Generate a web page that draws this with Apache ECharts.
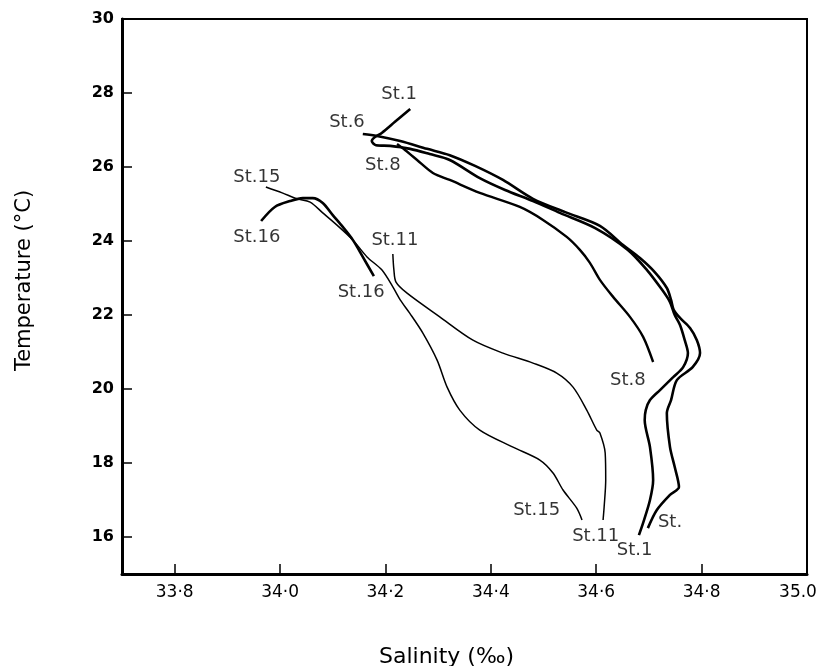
<!DOCTYPE html>
<html>
<head>
<meta charset="utf-8">
<script src="https://cdn.jsdelivr.net/npm/echarts@6/dist/echarts.min.js"></script>
<style>
  html, body { margin: 0; padding: 0; background: #fff; }
  #chart { width: 819px; height: 666px; }
</style>
</head>
<body>
<div id="chart"></div>
<script>
// T-S curves, [salinity, temperature]
const st1 = [
  [34.247, 27.57], [34.218, 27.22], [34.193, 26.92], [34.180, 26.81], [34.174, 26.70],
  [34.182, 26.59], [34.209, 26.57], [34.247, 26.49], [34.284, 26.35], [34.322, 26.19],
  [34.379, 25.70], [34.427, 25.38], [34.480, 25.08], [34.531, 24.76], [34.598, 24.35],
  [34.660, 23.76], [34.696, 23.22], [34.725, 22.68], [34.740, 22.35], [34.749, 22.00],
  [34.759, 21.73], [34.768, 21.32], [34.774, 20.97], [34.765, 20.59], [34.746, 20.32],
  [34.721, 19.97], [34.702, 19.70], [34.694, 19.43], [34.692, 19.16], [34.702, 18.43],
  [34.708, 17.54], [34.702, 17.00], [34.689, 16.38], [34.681, 16.05]
];
const st6 = [
  [34.157, 26.89], [34.184, 26.84], [34.228, 26.70], [34.279, 26.49], [34.322, 26.32],
  [34.370, 26.03], [34.423, 25.65], [34.480, 25.14], [34.541, 24.78], [34.607, 24.41],
  [34.651, 23.89], [34.683, 23.54], [34.711, 23.16], [34.734, 22.73], [34.742, 22.41],
  [34.747, 22.14], [34.759, 21.92], [34.778, 21.65], [34.791, 21.32], [34.797, 20.97],
  [34.783, 20.59], [34.753, 20.24], [34.742, 19.70], [34.734, 19.35], [34.740, 18.43],
  [34.749, 17.89], [34.757, 17.35], [34.740, 17.14], [34.715, 16.73], [34.698, 16.24]
];
const st8 = [
  [34.222, 26.62], [34.237, 26.46], [34.260, 26.19], [34.290, 25.84], [34.322, 25.65],
  [34.379, 25.30], [34.455, 24.92], [34.499, 24.57], [34.544, 24.11], [34.569, 23.76],
  [34.588, 23.41], [34.607, 22.95], [34.632, 22.49], [34.664, 21.95], [34.689, 21.41],
  [34.708, 20.73]
];
const st11 = [
  [34.214, 23.65], [34.216, 23.22], [34.220, 22.89], [34.241, 22.59], [34.303, 21.95],
  [34.366, 21.32], [34.423, 20.97], [34.480, 20.70], [34.525, 20.43], [34.556, 20.05],
  [34.582, 19.43], [34.601, 18.89], [34.607, 18.81], [34.617, 18.27], [34.618, 17.54],
  [34.615, 16.81], [34.613, 16.46]
];
const st15 = [
  [33.973, 25.46], [34.004, 25.30], [34.032, 25.14], [34.057, 25.05], [34.081, 24.76],
  [34.108, 24.43], [34.138, 24.03], [34.165, 23.57], [34.193, 23.22], [34.214, 22.76],
  [34.228, 22.41], [34.246, 22.05], [34.271, 21.51], [34.298, 20.78], [34.317, 20.05],
  [34.341, 19.43], [34.379, 18.89], [34.442, 18.43], [34.493, 18.08], [34.518, 17.73],
  [34.537, 17.27], [34.563, 16.78], [34.573, 16.46]
];
const st16 = [
  [33.964, 24.54], [33.990, 24.92], [34.019, 25.08], [34.043, 25.16], [34.062, 25.16],
  [34.081, 25.03], [34.100, 24.70], [34.119, 24.38], [34.138, 24.03], [34.157, 23.57],
  [34.178, 23.05]
];

// station labels written on the plot
const labelNames = ["St.1", "St.6", "St.8", "St.15", "St.16", "St.11", "St.16", "St.8", "St.15", "St.11", "St.1", "St."];
const labelAt = [
  [34.226, 27.97], [34.127, 27.22], [34.195, 26.05], [33.956, 25.73], [33.956, 24.11],
  [34.218, 24.03], [34.154, 22.62], [34.660, 20.24], [34.487, 16.73], [34.599, 16.03],
  [34.673, 15.65], [34.740, 16.41]
];

const xTicks = [33.8, 34.0, 34.2, 34.4, 34.6, 34.8, 35.0];
const xTickText = ["33·8", "34·0", "34·2", "34·4", "34·6", "34·8", "35.0"];
const yTicks = [16, 18, 20, 22, 24, 26, 28, 30];

const ink = "#000";
const chart = echarts.init(document.getElementById("chart"));

function curve(name, data, width) {
  return {
    name: name,
    type: "line",
    data: data,
    showSymbol: false,
    smooth: 0.3,
    lineStyle: { color: ink, width: width },
    silent: true
  };
}

chart.setOption({
  animation: false,
  backgroundColor: "#fff",
  grid: {
    left: 122, right: 12, top: 19, bottom: 92,
    outerBoundsMode: "none",
    containLabel: false,
    show: true, borderColor: ink, borderWidth: 2
  },
  xAxis: {
    type: "value",
    min: 33.7,
    max: 35.0,
    name: "Salinity (‰)",
    nameLocation: "middle",
    nameGap: 72,
    nameTextStyle: { color: ink, fontSize: 22, fontFamily: "DejaVu Sans", padding: [0, 36, 0, 0] },
    axisLine: { lineStyle: { color: ink, width: 3 } },
    axisTick: { inside: true, length: 10, customValues: xTicks.slice(0, -1), lineStyle: { color: ink, width: 1.5 } },
    axisLabel: {
      customValues: xTicks,
      margin: 10,
      color: ink,
      fontSize: 17,
      fontFamily: "DejaVu Sans",
      formatter: (v) => {
        const i = xTicks.findIndex((t) => Math.abs(t - v) < 1e-6);
        return i === xTicks.length - 1 ? "{m|" + xTickText[i] + "}" : xTickText[i];
      },
      rich: { m: { fontSize: 17, fontFamily: "DejaVu Sans", color: ink, padding: [0, 18, 0, 0] } }
    },
    splitLine: { show: false }
  },
  yAxis: {
    type: "value",
    min: 15,
    max: 30,
    name: "Temperature (°C)",
    nameLocation: "middle",
    nameGap: 87,
    nameTextStyle: { color: ink, fontSize: 21, fontFamily: "DejaVu Sans", padding: [0, 0, 0, 32] },
    axisLine: { lineStyle: { color: ink, width: 3 } },
    axisTick: { inside: true, length: 10, customValues: yTicks.slice(0, -1), lineStyle: { color: ink, width: 1.5 } },
    axisLabel: {
      customValues: yTicks,
      margin: 8,
      color: ink,
      fontSize: 16,
      fontWeight: "bold",
      fontFamily: "DejaVu Sans"
    },
    splitLine: { show: false }
  },
  series: [
    curve("St.1", st1, 2.6),
    curve("St.6", st6, 2.6),
    curve("St.8", st8, 2.4),
    curve("St.11", st11, 1.5),
    curve("St.15", st15, 1.5),
    curve("St.16", st16, 2.6),
    {
      type: "scatter",
      symbolSize: 0,
      silent: true,
      data: labelAt.map((p, i) => ({ value: p, name: labelNames[i] })),
      label: {
        show: true,
        position: "inside",
        formatter: "{b}",
        color: ink,
        textBorderWidth: 0,
        fontSize: 18,
        fontFamily: "DejaVu Sans"
      }
    }
  ]
});
</script>
</body>
</html>
